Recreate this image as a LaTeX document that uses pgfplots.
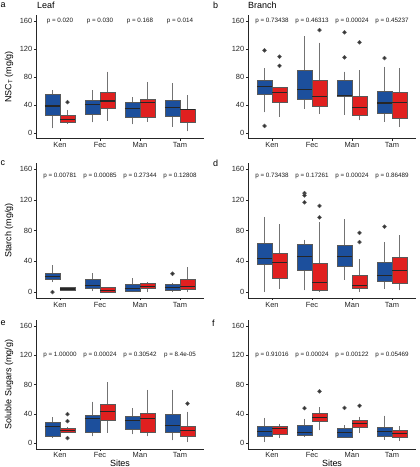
\documentclass[border=0pt]{standalone}
\usepackage{fontspec}
\setmainfont{Liberation Sans}
\usepackage{pgfplots}
\pgfplotsset{compat=1.18}
\usepgfplotslibrary{statistics}
\definecolor{cblue}{HTML}{1C4F9C}
\definecolor{cred}{HTML}{E0201F}
\pgfplotsset{
  panel/.style={scale only axis, width=168bp, xmin=0.4, xmax=4.6, ymin=-8, ymax=168,
    axis x line=bottom, axis y line=left, axis line style={-, black!85, line width=0.6bp},
    xtick={1,2,3,4}, xticklabels={Ken,Fec,Man,Tam}, ytick={0,40,80,120,160},
    tick align=outside, major tick length=2bp, tick style={black!85, line width=0.5bp},
    ticklabel style={font=\fontsize{7.5}{9}\selectfont, text=black!85, inner sep=1.5bp},
    /pgf/number format/assume math mode=true, clip=false, anchor=south west},
  bstyle/.style={/pgfplots/boxplot/draw direction=y, /pgfplots/boxplot/box extend=0.375, /pgfplots/boxplot/whisker extend=0,
    fill=#1, draw=black!65, line width=0.5bp, mark=*, mark size=1.9bp,
    mark options={fill=black!80, draw=none},
    /pgfplots/boxplot/every median/.style={draw=black!85, line width=1.1bp},
    /pgfplots/boxplot/every whisker/.style={draw=black!55, line width=0.6bp}},
}
\tikzset{pv/.style={font=\fontsize{6.3}{7}\selectfont, text=black!90}}
\begin{document}
\begin{tikzpicture}
\useasboundingbox (0bp,0bp) rectangle (420bp,467bp);
% ---------------- a ----------------
\begin{axis}[panel, at={(36bp,328.4bp)}, height=123.2bp]
\addplot[bstyle=cblue, boxplot prepared={draw position=0.8125, lower whisker=6.7, lower quartile=25.7, median=38.6, upper quartile=56, upper whisker=61}] coordinates {};
\addplot[bstyle=cred, boxplot prepared={draw position=1.1875, lower whisker=13, lower quartile=16, median=19.5, upper quartile=25, upper whisker=33}] coordinates {(0,44)};
\addplot[bstyle=cblue, boxplot prepared={draw position=1.8125, lower whisker=15, lower quartile=26.7, median=41, upper quartile=47, upper whisker=61}] coordinates {};
\addplot[bstyle=cred, boxplot prepared={draw position=2.1875, lower whisker=17.6, lower quartile=36, median=45.7, upper quartile=58.6, upper whisker=87.6}] coordinates {};
\addplot[bstyle=cblue, boxplot prepared={draw position=2.8125, lower whisker=12.4, lower quartile=23, median=35, upper quartile=44, upper whisker=51}] coordinates {};
\addplot[bstyle=cred, boxplot prepared={draw position=3.1875, lower whisker=16, lower quartile=23, median=43, upper quartile=48, upper whisker=73}] coordinates {};
\addplot[bstyle=cblue, boxplot prepared={draw position=3.8125, lower whisker=8.6, lower quartile=23.8, median=36.7, upper quartile=47, upper whisker=71.4}] coordinates {};
\addplot[bstyle=cred, boxplot prepared={draw position=4.1875, lower whisker=2.4, lower quartile=16, median=33, upper quartile=34, upper whisker=54}] coordinates {};
\node[pv] at (axis cs:1,160) {p = 0.020};
\node[pv] at (axis cs:2,160) {p = 0.030};
\node[pv] at (axis cs:3,160) {p = 0.168};
\node[pv] at (axis cs:4,160) {p = 0.014};
\end{axis}
% ---------------- b ----------------
\begin{axis}[panel, at={(248bp,328.4bp)}, height=123.2bp]
\addplot[bstyle=cblue, boxplot prepared={draw position=0.8125, lower whisker=29.5, lower quartile=55, median=66.5, upper quartile=75, upper whisker=92.5}] coordinates {(0,118) (0,10)};
\addplot[bstyle=cred, boxplot prepared={draw position=1.1875, lower whisker=23, lower quartile=44, median=57.6, upper quartile=65, upper whisker=66}] coordinates {(0,109) (0,96)};
\addplot[bstyle=cblue, boxplot prepared={draw position=1.8125, lower whisker=34.5, lower quartile=47.8, median=62, upper quartile=89.6, upper whisker=138}] coordinates {};
\addplot[bstyle=cred, boxplot prepared={draw position=2.1875, lower whisker=27, lower quartile=38.4, median=52.7, upper quartile=76, upper whisker=129}] coordinates {(0,147)};
\addplot[bstyle=cblue, boxplot prepared={draw position=2.8125, lower whisker=26, lower quartile=53, median=54, upper quartile=75, upper whisker=87.6}] coordinates {(0,143.8) (0,108)};
\addplot[bstyle=cred, boxplot prepared={draw position=3.1875, lower whisker=18, lower quartile=26, median=36, upper quartile=52.7, upper whisker=89.6}] coordinates {(0,129.5)};
\addplot[bstyle=cblue, boxplot prepared={draw position=3.8125, lower whisker=16, lower quartile=28, median=42.8, upper quartile=59, upper whisker=94.5}] coordinates {(0,107)};
\addplot[bstyle=cred, boxplot prepared={draw position=4.1875, lower whisker=8.4, lower quartile=20.7, median=43.3, upper quartile=57.6, upper whisker=92.5}] coordinates {};
\node[pv] at (axis cs:1,160) {p = 0.73438};
\node[pv] at (axis cs:2,160) {p = 0.46313};
\node[pv] at (axis cs:3,160) {p = 0.00024};
\node[pv] at (axis cs:4,160) {p = 0.45237};
\end{axis}
% ---------------- c ----------------
\begin{axis}[panel, at={(36bp,168.8bp)}, height=135.3bp]
\addplot[bstyle=cblue, boxplot prepared={draw position=0.8125, lower whisker=13, lower quartile=16, median=20.3, upper quartile=25, upper whisker=34.6}] coordinates {(0,0)};
\addplot[bstyle=cred, boxplot prepared={draw position=1.1875, lower whisker=2, lower quartile=2.6, median=3.9, upper quartile=5.6, upper whisker=6.5}] coordinates {};
\addplot[bstyle=cblue, boxplot prepared={draw position=1.8125, lower whisker=1.3, lower quartile=4.3, median=8.6, upper quartile=16, upper whisker=24.6}] coordinates {};
\addplot[bstyle=cred, boxplot prepared={draw position=2.1875, lower whisker=0, lower quartile=0.2, median=2.2, upper quartile=5.6, upper whisker=6.5}] coordinates {};
\addplot[bstyle=cblue, boxplot prepared={draw position=2.8125, lower whisker=0, lower quartile=1.3, median=5.2, upper quartile=9.5, upper whisker=18}] coordinates {};
\addplot[bstyle=cred, boxplot prepared={draw position=3.1875, lower whisker=0, lower quartile=4.3, median=7.4, upper quartile=11.7, upper whisker=13}] coordinates {};
\addplot[bstyle=cblue, boxplot prepared={draw position=3.8125, lower whisker=0, lower quartile=1.7, median=6.5, upper quartile=10.4, upper whisker=12}] coordinates {(0,23.8)};
\addplot[bstyle=cred, boxplot prepared={draw position=4.1875, lower whisker=0, lower quartile=3.5, median=7.4, upper quartile=16, upper whisker=32.4}] coordinates {};
\node[pv] at (axis cs:1,151) {p = 0.00781};
\node[pv] at (axis cs:2,151) {p = 0.00085};
\node[pv] at (axis cs:3,151) {p = 0.27344};
\node[pv] at (axis cs:4,151) {p = 0.12808};
\end{axis}
% ---------------- d ----------------
\begin{axis}[panel, at={(248bp,168.8bp)}, height=135.3bp]
\addplot[bstyle=cblue, boxplot prepared={draw position=0.8125, lower whisker=0, lower quartile=36, median=44, upper quartile=64, upper whisker=97.8}] coordinates {};
\addplot[bstyle=cred, boxplot prepared={draw position=1.1875, lower whisker=4.4, lower quartile=18.5, median=38.8, upper quartile=50.7, upper whisker=88}] coordinates {};
\addplot[bstyle=cblue, boxplot prepared={draw position=1.8125, lower whisker=2.2, lower quartile=28.6, median=46.3, upper quartile=61.7, upper whisker=68}] coordinates {(0,128.7) (0,125.6) (0,116.8)};
\addplot[bstyle=cred, boxplot prepared={draw position=2.1875, lower whisker=0, lower quartile=2.2, median=12, upper quartile=38, upper whisker=91}] coordinates {(0,112) (0,97)};
\addplot[bstyle=cblue, boxplot prepared={draw position=2.8125, lower whisker=16.3, lower quartile=34, median=46.3, upper quartile=60.4, upper whisker=94.8}] coordinates {};
\addplot[bstyle=cred, boxplot prepared={draw position=3.1875, lower whisker=0, lower quartile=5.3, median=8.8, upper quartile=22, upper whisker=42.7}] coordinates {(0,77) (0,65)};
\addplot[bstyle=cblue, boxplot prepared={draw position=3.8125, lower whisker=4.4, lower quartile=14, median=22, upper quartile=38.8, upper whisker=65}] coordinates {(0,85)};
\addplot[bstyle=cred, boxplot prepared={draw position=4.1875, lower whisker=2.2, lower quartile=12, median=27.8, upper quartile=45.4, upper whisker=73.6}] coordinates {};
\node[pv] at (axis cs:1,151) {p = 0.73438};
\node[pv] at (axis cs:2,151) {p = 0.17261};
\node[pv] at (axis cs:3,151) {p = 0.00024};
\node[pv] at (axis cs:4,151) {p = 0.86489};
\end{axis}
% ---------------- e ----------------
\begin{axis}[panel, at={(36bp,18.1bp)}, height=128.7bp]
\addplot[bstyle=cblue, boxplot prepared={draw position=0.8125, lower whisker=6.9, lower quartile=9.7, median=23, upper quartile=29, upper whisker=35}] coordinates {};
\addplot[bstyle=cred, boxplot prepared={draw position=1.1875, lower whisker=14.3, lower quartile=14.5, median=17.5, upper quartile=20.7, upper whisker=22}] coordinates {(0,39.5) (0,30) (0,6.9)};
\addplot[bstyle=cblue, boxplot prepared={draw position=1.8125, lower whisker=9.2, lower quartile=15, median=33.6, upper quartile=38, upper whisker=56.6}] coordinates {};
\addplot[bstyle=cred, boxplot prepared={draw position=2.1875, lower whisker=13.8, lower quartile=31, median=42.8, upper quartile=53, upper whisker=83}] coordinates {};
\addplot[bstyle=cblue, boxplot prepared={draw position=2.8125, lower whisker=12, lower quartile=18.9, median=31, upper quartile=36.8, upper whisker=47.4}] coordinates {};
\addplot[bstyle=cred, boxplot prepared={draw position=3.1875, lower whisker=9.2, lower quartile=14.3, median=33.5, upper quartile=40.5, upper whisker=72.6}] coordinates {};
\addplot[bstyle=cblue, boxplot prepared={draw position=3.8125, lower whisker=3.7, lower quartile=15, median=24.4, upper quartile=39.5, upper whisker=72.6}] coordinates {};
\addplot[bstyle=cred, boxplot prepared={draw position=4.1875, lower whisker=1.4, lower quartile=9.2, median=16.6, upper quartile=23, upper whisker=43}] coordinates {(0,54)};
\node[pv] at (axis cs:1,120) {p = 1.00000};
\node[pv] at (axis cs:2,120) {p = 0.00024};
\node[pv] at (axis cs:3,120) {p = 0.30542};
\node[pv] at (axis cs:4,120) {p = 8.4e-05};
\end{axis}
% ---------------- f ----------------
\begin{axis}[panel, at={(248bp,18.1bp)}, height=128.7bp]
\addplot[bstyle=cblue, boxplot prepared={draw position=0.8125, lower whisker=1.4, lower quartile=9.5, median=15.9, upper quartile=23, upper whisker=34.5}] coordinates {};
\addplot[bstyle=cred, boxplot prepared={draw position=1.1875, lower whisker=6.8, lower quartile=12.7, median=19.5, upper quartile=23, upper whisker=26.3}] coordinates {};
\addplot[bstyle=cblue, boxplot prepared={draw position=1.8125, lower whisker=8.2, lower quartile=10.4, median=15, upper quartile=25, upper whisker=33}] coordinates {(0,47.6)};
\addplot[bstyle=cred, boxplot prepared={draw position=2.1875, lower whisker=17.2, lower quartile=30, median=35.4, upper quartile=40.8, upper whisker=49}] coordinates {(0,70.7)};
\addplot[bstyle=cblue, boxplot prepared={draw position=2.8125, lower whisker=7.3, lower quartile=8.2, median=15, upper quartile=20.4, upper whisker=24}] coordinates {(0,48)};
\addplot[bstyle=cred, boxplot prepared={draw position=3.1875, lower whisker=13.6, lower quartile=21.8, median=27.2, upper quartile=30.8, upper whisker=36.3}] coordinates {(0,51)};
\addplot[bstyle=cblue, boxplot prepared={draw position=3.8125, lower whisker=4.5, lower quartile=9.5, median=15.9, upper quartile=21.8, upper whisker=37.6}] coordinates {};
\addplot[bstyle=cred, boxplot prepared={draw position=4.1875, lower whisker=2.7, lower quartile=8.2, median=13.6, upper quartile=18, upper whisker=22.7}] coordinates {};
\node[pv] at (axis cs:1,120) {p = 0.91016};
\node[pv] at (axis cs:2,120) {p = 0.00024};
\node[pv] at (axis cs:3,120) {p = 0.00122};
\node[pv] at (axis cs:4,120) {p = 0.05469};
\end{axis}
% ---------------- labels ----------------
\begin{scope}[every node/.style={font=\fontsize{9}{10}\selectfont, inner sep=0pt}]
\node[anchor=west] at (0.5bp,461.5bp) {a};
\node[anchor=west] at (37bp,461.5bp) {Leaf};
\node[anchor=west] at (213bp,461.5bp) {b};
\node[anchor=west] at (248bp,461.5bp) {Branch};
\node[anchor=west] at (0.5bp,304bp) {c};
\node[anchor=west] at (213bp,304bp) {d};
\node[anchor=west] at (0.5bp,144bp) {e};
\node[anchor=west] at (212bp,144bp) {f};
\node[rotate=90] at (9bp,390bp) {NSC\textsubscript{T} (mg/g)};
\node[rotate=90] at (9bp,236.5bp) {Starch (mg/g)};
\node[rotate=90] at (9bp,82.5bp) {Soluble Sugars (mg/g)};
\node at (120bp,4bp) {Sites};
\node at (332bp,4bp) {Sites};
\end{scope}
\end{tikzpicture}
\end{document}
